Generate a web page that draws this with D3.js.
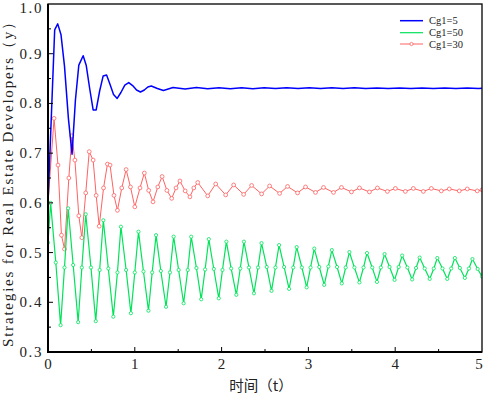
<!DOCTYPE html>
<html>
<head>
<meta charset="utf-8">
<script src="https://cdn.jsdelivr.net/npm/d3@7"></script>
<style>
  body { margin: 0; background: #fff; }
  svg { display: block; }
</style>
</head>
<body>
<script>
"use strict";

// Cg1=5
const blueData = [
  [0, 0.600], [0.077, 0.948], [0.112, 0.960], [0.150, 0.938], [0.190, 0.875],
  [0.235, 0.770], [0.277, 0.698], [0.316, 0.807], [0.355, 0.877], [0.405, 0.896],
  [0.440, 0.877], [0.480, 0.830], [0.520, 0.787], [0.555, 0.787], [0.595, 0.825],
  [0.635, 0.855], [0.675, 0.857], [0.715, 0.838], [0.755, 0.818], [0.797, 0.810],
  [0.840, 0.822], [0.885, 0.837], [0.930, 0.842], [0.975, 0.836], [1.020, 0.827],
  [1.065, 0.823], [1.110, 0.827], [1.150, 0.833], [1.190, 0.835], [1.260, 0.830],
  [1.330, 0.826], [1.440, 0.832], [1.580, 0.829], [1.710, 0.832], [1.840, 0.8295],
  [1.970, 0.8315], [2.100, 0.8295], [2.230, 0.8315], [2.360, 0.8295], [2.490, 0.8315],
  [2.620, 0.830], [2.750, 0.8315], [2.880, 0.830], [3.010, 0.8315], [3.140, 0.830],
  [3.270, 0.8315], [3.400, 0.830], [3.530, 0.8315], [3.660, 0.830], [3.790, 0.831],
  [3.920, 0.830], [4.050, 0.831], [4.180, 0.830], [4.310, 0.831], [4.440, 0.830],
  [4.570, 0.831], [4.700, 0.830], [4.830, 0.831], [4.960, 0.830], [5.000, 0.8305]
];

// Cg1=50
const greenData = [
  [0, 0.520], [0.03, 0.600], [0.09, 0.480], [0.145, 0.354], [0.19, 0.470],
  [0.2325, 0.589], [0.29, 0.475], [0.3475, 0.360], [0.39, 0.470],
  [0.435, 0.577], [0.495, 0.470], [0.55, 0.362], [0.595, 0.465],
  [0.6375, 0.565], [0.695, 0.468], [0.7525, 0.371], [0.80, 0.460],
  [0.84, 0.552], [0.90, 0.465], [0.955, 0.378], [1.00, 0.460],
  [1.0425, 0.542], [1.10, 0.462], [1.1575, 0.383], [1.20, 0.460],
  [1.245, 0.535], [1.30, 0.463], [1.36, 0.391], [1.405, 0.460],
  [1.4475, 0.532], [1.505, 0.465], [1.5625, 0.398], [1.61, 0.465],
  [1.65, 0.532], [1.71, 0.469], [1.765, 0.406], [1.81, 0.466],
  [1.8525, 0.527], [1.91, 0.467], [1.9675, 0.408], [2.01, 0.465],
  [2.055, 0.522], [2.11, 0.468], [2.17, 0.415], [2.215, 0.468],
  [2.2575, 0.522], [2.315, 0.470], [2.3725, 0.418], [2.42, 0.470],
  [2.46, 0.519], [2.52, 0.471], [2.575, 0.423], [2.62, 0.470],
  [2.6625, 0.515], [2.72, 0.471], [2.7775, 0.427], [2.825, 0.470],
  [2.865, 0.511], [2.925, 0.470], [2.98, 0.430], [3.025, 0.470],
  [3.0675, 0.508], [3.125, 0.471], [3.1825, 0.435], [3.23, 0.472],
  [3.27, 0.505], [3.33, 0.471], [3.385, 0.438], [3.43, 0.470],
  [3.4725, 0.501], [3.53, 0.470], [3.5875, 0.440], [3.635, 0.470],
  [3.675, 0.499], [3.735, 0.470], [3.79, 0.441], [3.835, 0.470],
  [3.8775, 0.497], [3.935, 0.471], [3.9925, 0.445], [4.04, 0.471],
  [4.08, 0.494], [4.14, 0.470], [4.195, 0.446], [4.24, 0.469],
  [4.2825, 0.490], [4.34, 0.468], [4.3975, 0.447], [4.445, 0.468],
  [4.485, 0.489], [4.545, 0.468], [4.60, 0.447], [4.645, 0.468],
  [4.6875, 0.489], [4.745, 0.469], [4.8025, 0.449], [4.85, 0.468],
  [4.89, 0.487], [4.95, 0.467], [5.0, 0.452]
];

// Cg1=30
const redData = [
  [0, 0.600], [0.07, 0.770], [0.115, 0.676], [0.155, 0.535], [0.19, 0.507],
  [0.24, 0.650], [0.275, 0.735], [0.31, 0.686], [0.355, 0.574], [0.39, 0.530],
  [0.435, 0.620], [0.475, 0.703], [0.52, 0.686], [0.555, 0.615], [0.59, 0.553],
  [0.64, 0.630], [0.685, 0.678], [0.715, 0.676], [0.76, 0.615], [0.80, 0.585],
  [0.85, 0.630], [0.90, 0.667], [0.95, 0.632], [1.00, 0.592], [1.06, 0.630],
  [1.11, 0.660], [1.16, 0.625], [1.21, 0.602], [1.265, 0.632], [1.315, 0.653],
  [1.37, 0.625], [1.425, 0.609], [1.475, 0.630], [1.52, 0.644], [1.58, 0.624],
  [1.635, 0.612], [1.68, 0.630], [1.725, 0.641], [1.84, 0.614], [1.932, 0.638],
  [2.047, 0.616], [2.139, 0.636], [2.254, 0.617], [2.346, 0.635], [2.461, 0.618],
  [2.553, 0.634], [2.668, 0.619], [2.76, 0.633], [2.875, 0.620], [2.967, 0.632],
  [3.082, 0.621], [3.174, 0.631], [3.289, 0.621], [3.381, 0.631], [3.496, 0.622],
  [3.588, 0.630], [3.703, 0.622], [3.795, 0.630], [3.91, 0.623], [4.002, 0.629],
  [4.117, 0.623], [4.209, 0.629], [4.324, 0.623], [4.416, 0.629], [4.531, 0.624],
  [4.623, 0.628], [4.738, 0.624], [4.83, 0.628], [4.945, 0.624], [5.0, 0.626]
];

const seriesNames = ["Cg1=5", "Cg1=50", "Cg1=30"];
const xTicks = [0, 1, 2, 3, 4, 5];
const yTicks = [0.3, 0.4, 0.5, 0.6, 0.7, 0.8, 0.9, 1.0];
const xMinor = [0.5, 1.5, 2.5, 3.5, 4.5];
const yMinor = [0.35, 0.45, 0.55, 0.65, 0.75, 0.85, 0.95];
const xTitle = "时间（t）";
const yTitle = "Strategies for Real Estate Developers（y）";

const width = 484, height = 394;
const plotLeft = 48, plotRight = 482, plotTop = 4, plotBottom = 352;

const x = d3.scaleLinear().domain([0, 5]).range([plotLeft, plotRight]);
const y = d3.scaleLinear().domain([0.3, 1.0]).range([plotBottom, plotTop]);

const svg = d3.select("body").append("svg")
    .attr("width", width)
    .attr("height", height);

svg.append("defs").append("clipPath")
    .attr("id", "plot")
  .append("rect")
    .attr("x", plotLeft).attr("y", plotTop)
    .attr("width", plotRight - plotLeft).attr("height", plotBottom - plotTop);

const line = d3.line()
    .x(d => x(d[0]))
    .y(d => y(d[1]));

const series = [
  {name: seriesNames[0], data: blueData, color: "#0000ff", width: 1.5, marker: 0},
  {name: seriesNames[1], data: greenData, color: "#00e35a", width: 1.2, marker: 1.6},
  {name: seriesNames[2], data: redData, color: "#ff6262", width: 1, marker: 1.9}
];

let plot = svg.append("g").attr("clip-path", "url(#plot)");

// draw red first, then green, blue on top
for (let s of [series[2], series[1], series[0]]) {
  plot.append("path")
    .datum(s.data)
    .attr("fill", "none")
    .attr("stroke", s.color)
    .attr("stroke-width", s.width)
    .attr("stroke-linejoin", "round")
    .attr("d", line);
  if (s.marker) {
    plot.append("g")
      .selectAll("circle")
      .data(s.data)
      .enter().append("circle")
      .attr("cx", d => x(d[0]))
      .attr("cy", d => y(d[1]))
      .attr("r", s.marker)
      .attr("fill", "#fff")
      .attr("stroke", s.color)
      .attr("stroke-width", 0.8);
  }
}

// frame
svg.append("rect")
    .attr("x", plotLeft).attr("y", plotTop)
    .attr("width", plotRight - plotLeft).attr("height", plotBottom - plotTop)
    .attr("fill", "none")
    .attr("stroke", "#000")
    .attr("stroke-width", 1.3);
svg.append("line")
    .attr("x1", plotLeft).attr("x2", plotLeft)
    .attr("y1", plotTop).attr("y2", plotBottom + 1)
    .attr("stroke", "#000").attr("stroke-width", 2);
svg.append("line")
    .attr("x1", plotLeft - 1).attr("x2", plotRight)
    .attr("y1", plotBottom).attr("y2", plotBottom)
    .attr("stroke", "#000").attr("stroke-width", 2);

// inward ticks
const ticks = svg.append("g").attr("stroke", "#000").attr("stroke-width", 1);
ticks.selectAll(".xt").data(xTicks.slice(1, -1)).enter().append("line")
    .attr("x1", d => x(d)).attr("x2", d => x(d))
    .attr("y1", plotBottom).attr("y2", plotBottom - 5);
ticks.selectAll(".xm").data(xMinor).enter().append("line")
    .attr("x1", d => x(d)).attr("x2", d => x(d))
    .attr("y1", plotBottom).attr("y2", plotBottom - 3);
ticks.selectAll(".yt").data(yTicks.slice(1, -1)).enter().append("line")
    .attr("x1", plotLeft).attr("x2", plotLeft + 5)
    .attr("y1", d => y(d)).attr("y2", d => y(d));
ticks.selectAll(".ym").data(yMinor).enter().append("line")
    .attr("x1", plotLeft).attr("x2", plotLeft + 3)
    .attr("y1", d => y(d)).attr("y2", d => y(d));

const labelFont = "'Liberation Serif', 'DejaVu Serif', serif";

// the last label sits against the window edge, as in the original
svg.append("g").selectAll("text")
    .data(xTicks).enter().append("text")
    .attr("x", d => Math.min(x(d), width - 5))
    .attr("y", 369)
    .attr("text-anchor", "middle")
    .attr("font-family", labelFont)
    .attr("font-size", 15)
    .attr("fill", "#222")
    .text(d => d3.format("d")(d));

svg.append("g").selectAll("text")
    .data(yTicks).enter().append("text")
    .attr("x", 43)
    .attr("y", d => Math.max(y(d) + 5, 13))
    .attr("text-anchor", "end")
    .attr("font-family", labelFont)
    .attr("font-size", 15)
    .attr("letter-spacing", 1.6)
    .attr("fill", "#222")
    .text(d => d3.format(".1f")(d));

svg.append("text")
    .attr("x", 261)
    .attr("y", 391)
    .attr("text-anchor", "middle")
    .attr("font-family", "'Noto Sans CJK SC', sans-serif")
    .attr("font-size", 14.5)
    .attr("fill", "#222")
    .text(xTitle);

svg.append("text")
    .attr("transform", "translate(13,181) rotate(-90)")
    .attr("text-anchor", "middle")
    .attr("font-family", labelFont)
    .attr("font-size", 15)
    .attr("fill", "#222")
    .attr("textLength", 332)
    .attr("lengthAdjust", "spacing")
    .text(yTitle);

// legend
const legend = svg.append("g");
const legendY = [20.7, 32.7, 44];
series.forEach((s, i) => {
  legend.append("line")
    .attr("x1", 400).attr("x2", 423)
    .attr("y1", legendY[i]).attr("y2", legendY[i])
    .attr("stroke", s.color)
    .attr("stroke-width", s.width);
  if (i === 2) {
    legend.append("circle")
      .attr("cx", 411.5).attr("cy", legendY[i])
      .attr("r", 1.6)
      .attr("fill", "#fff")
      .attr("stroke", s.color)
      .attr("stroke-width", 0.8);
  }
  legend.append("text")
    .attr("x", 429)
    .attr("y", legendY[i] + 3.5)
    .attr("font-family", labelFont)
    .attr("font-size", 10.5)
    .attr("fill", "#222")
    .text(s.name);
});
</script>
</body>
</html>
